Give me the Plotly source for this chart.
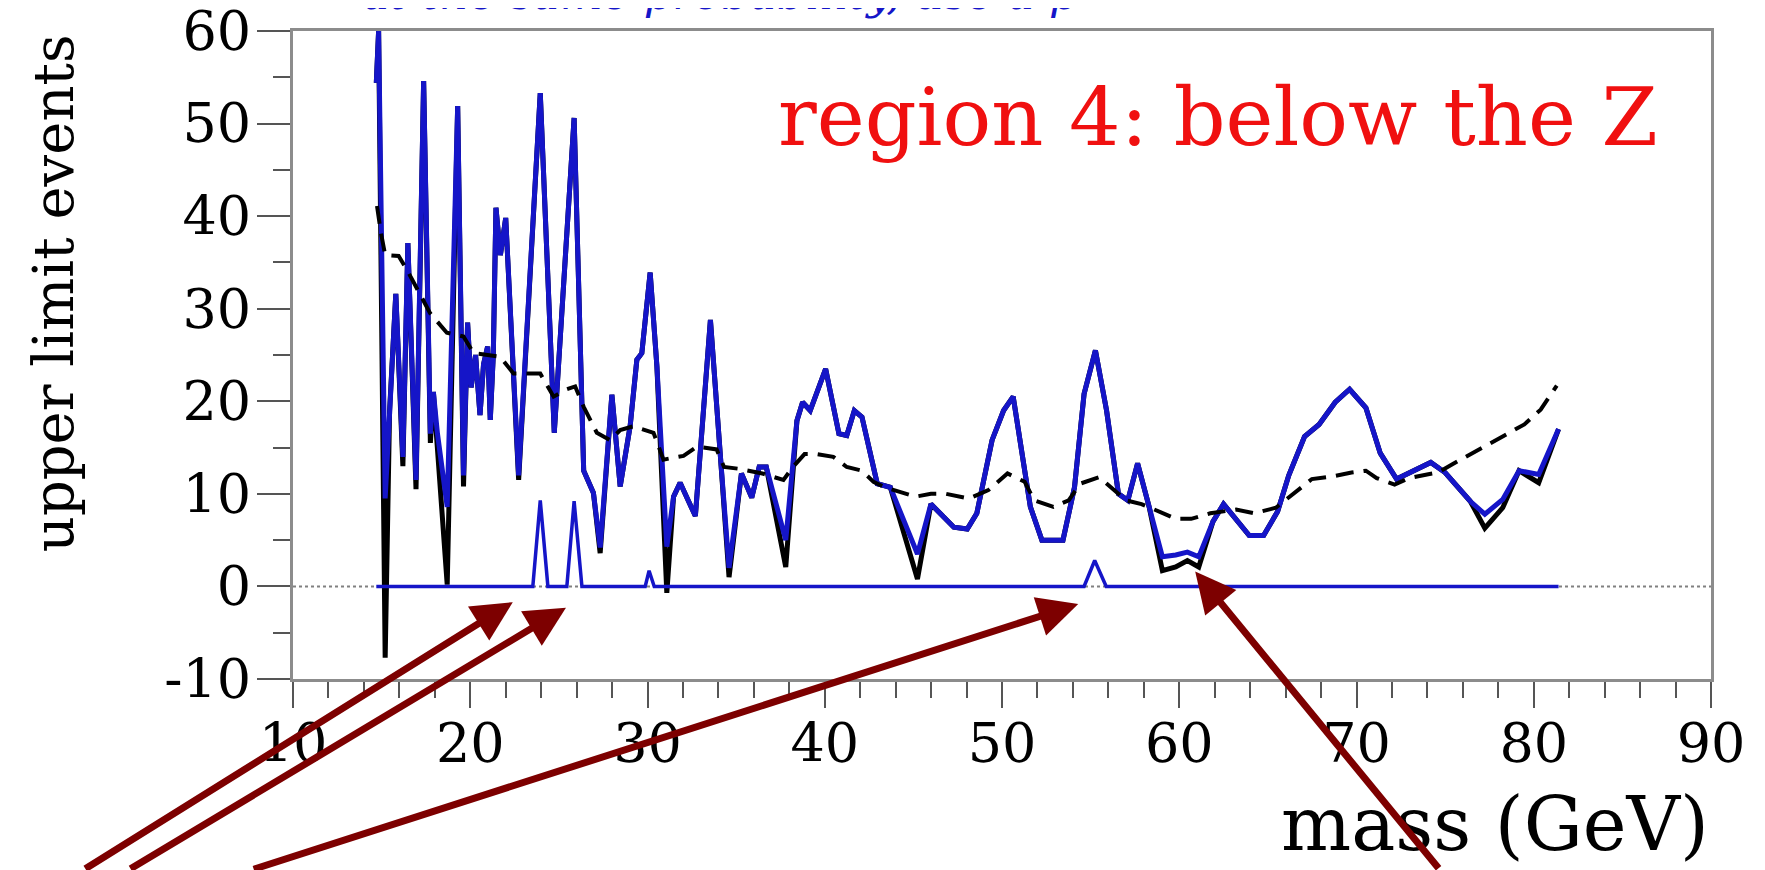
import plotly.graph_objects as go

# ---------------- data ----------------
mass = [14.70, 14.83, 15.20, 15.45, 15.80, 16.20, 16.48, 16.94, 17.37, 17.75,
        17.92, 18.15, 18.70, 19.29, 19.62, 19.85, 20.05, 20.30, 20.55, 20.75,
        20.98, 21.13, 21.30, 21.45, 21.70, 22.00, 22.73, 23.95, 24.74, 25.86,
        26.40, 26.95, 27.33, 27.99, 28.46, 29.02, 29.40, 29.68, 30.15, 30.53,
        31.09, 31.47, 31.84, 32.70, 33.55, 34.10, 34.60, 35.30, 35.88, 36.30,
        36.70, 37.80, 38.43, 38.75, 39.18, 40.05, 40.80, 41.24, 41.67, 42.10,
        42.96, 43.70, 45.23, 45.99, 46.53, 47.28, 48.04, 48.58, 49.44, 50.09,
        50.63, 51.60, 52.25, 53.44, 54.09, 54.63, 55.27, 55.90, 56.57, 57.10,
        57.65, 58.30, 59.05, 59.80, 60.46, 61.10, 61.90, 62.50, 63.95, 64.76,
        65.55, 66.18, 67.07, 67.89, 68.80, 69.61, 70.53, 71.34, 72.26, 74.19,
        75.00, 76.42, 77.24, 78.25, 79.17, 80.28, 81.40]

limit_blue = [54.4, 60.0, 9.5, 19.0, 31.6, 14.0, 37.1, 11.5, 54.6, 16.5,
              21.0, 16.5, 8.6, 51.9, 12.0, 28.5, 21.5, 25.0, 18.5, 24.0,
              25.9, 18.0, 25.0, 40.9, 35.8, 39.8, 12.0, 53.3, 16.6, 50.6,
              12.5, 10.1, 4.2, 20.7, 10.8, 17.3, 24.5, 25.2, 33.9, 23.8,
              4.3, 9.7, 11.2, 7.6, 28.8, 14.4, 2.0, 12.2, 9.6, 12.9,
              12.9, 5.0, 17.9, 19.9, 19.0, 23.5, 16.5, 16.3, 19.0, 18.3,
              11.1, 10.7, 3.5, 8.9, 7.9, 6.4, 6.2, 7.9, 15.8, 19.0,
              20.5, 8.6, 5.0, 5.0, 10.7, 20.8, 25.5, 19.0, 10.0, 9.3,
              13.3, 8.6, 3.2, 3.4, 3.7, 3.2, 7.0, 8.9, 5.5, 5.5,
              8.1, 12.0, 16.2, 17.5, 19.9, 21.3, 19.3, 14.4, 11.6, 13.4,
              12.3, 9.2, 7.8, 9.4, 12.5, 12.1, 17.0]

limit_black = [54.4, 60.0, -7.7, 19.0, 31.6, 13.0, 37.1, 10.5, 54.6, 15.5,
               21.0, 15.0, 0.2, 51.9, 10.8, 28.5, 21.5, 25.0, 18.5, 24.0,
               25.9, 18.0, 25.0, 40.9, 35.8, 39.8, 11.5, 53.3, 16.6, 50.6,
               12.5, 10.1, 3.6, 20.7, 10.8, 17.3, 24.5, 25.2, 33.9, 23.8,
               -0.7, 9.7, 11.2, 7.6, 28.8, 14.4, 1.0, 12.2, 9.6, 12.9,
               12.9, 2.1, 17.9, 19.9, 19.0, 23.5, 16.5, 16.3, 19.0, 18.3,
               11.1, 10.7, 0.8, 8.9, 7.9, 6.4, 6.2, 7.9, 15.8, 19.0,
               20.5, 8.6, 5.0, 5.0, 10.7, 20.8, 25.5, 19.0, 10.0, 9.3,
               13.3, 8.6, 1.7, 2.1, 2.8, 2.1, 7.0, 8.9, 5.5, 5.5,
               8.1, 12.0, 16.2, 17.5, 19.9, 21.3, 19.3, 14.4, 11.6, 13.4,
               12.3, 9.2, 6.3, 8.5, 12.5, 11.2, 17.0]

exp_mass = [14.74, 14.96, 15.20, 15.96, 16.43, 16.99, 17.74, 18.68, 19.62, 20.19,
            21.69, 22.44, 23.95, 24.70, 25.45, 25.92, 26.40, 27.14, 27.90, 28.46,
            29.20, 30.34, 30.90, 32.03, 32.78, 33.90, 34.32, 35.19, 36.48, 37.67,
            38.20, 38.86, 39.50, 40.48, 41.24, 42.10, 42.75, 43.40, 44.26, 45.12,
            45.99, 46.85, 48.15, 49.23, 50.31, 51.28, 51.82, 52.90, 53.76, 54.41,
            55.49, 56.14, 57.00, 57.87, 58.73, 59.81, 60.67, 61.75, 63.21, 64.23,
            65.45, 66.06, 66.87, 67.48, 68.70, 69.72, 70.53, 71.14, 72.15, 72.97,
            73.98, 74.59, 75.41, 76.42, 77.44, 78.46, 79.47, 80.39, 81.30]

exp_limit = [41.1, 38.2, 35.8, 35.7, 34.2, 32.1, 29.5, 27.4, 27.0, 25.2,
             24.8, 23.0, 23.0, 20.5, 21.3, 21.6, 19.4, 16.6, 15.8, 16.9,
             17.3, 16.6, 13.7, 14.1, 15.1, 14.8, 12.9, 12.7, 12.2, 11.5,
             12.9, 14.3, 14.3, 14.0, 12.9, 12.5, 11.3, 10.7, 10.2, 9.7,
             10.0, 10.0, 9.5, 10.4, 12.2, 11.3, 9.3, 8.6, 9.3, 11.1,
             11.8, 10.7, 9.3, 8.9, 8.2, 7.3, 7.3, 7.9, 8.3, 7.9,
             8.5, 9.4, 10.6, 11.6, 11.9, 12.3, 12.5, 11.7, 11.0, 11.7,
             12.1, 12.3, 13.2, 14.3, 15.3, 16.4, 17.5, 19.1, 21.7]

signal_mass = [14.70, 23.53, 23.95, 24.38, 25.45, 25.86, 26.30, 29.87, 30.09, 30.38,
               54.63, 55.23, 55.88, 81.40]
signal_events = [0, 0, 9.3, 0, 0, 9.2, 0, 0, 1.7, 0,
                 0, 2.8, 0, 0]

x_ticks = [10, 20, 30, 40, 50, 60, 70, 80, 90]
x_tick_labels = ["10", "20", "30", "40", "50", "60", "70", "80", "90"]
y_ticks = [-10, 0, 10, 20, 30, 40, 50, 60]
y_tick_labels = ["-10", "0", "10", "20", "30", "40", "50", "60"]

# arrows: (head mass, head events) <- (tail mass, tail events)
arrow_heads = [(22.4, -1.7), (25.4, -2.3), (54.3, -1.9), (60.9, 1.6)]
arrow_tails = [(-1.8, -30.6), (0.75, -30.6), (7.7, -30.6), (74.7, -30.6)]

# ---------------- styles ----------------
SERIF = "DejaVu Serif"
BLUE = "#1515c8"
DARKRED = "#7d0000"
AXIS_GREY = "#8c8c8c"
TICK_GREY = "#555555"

fig = go.Figure()

fig.add_shape(type="line", xref="paper", x0=0, x1=1, yref="y", y0=0, y1=0,
              line=dict(color="#808080", width=2, dash="dot"), layer="below")

fig.add_trace(go.Scatter(x=mass, y=limit_black, mode="lines",
                         line=dict(color="black", width=5), showlegend=False))
fig.add_trace(go.Scatter(x=mass, y=limit_blue, mode="lines",
                         line=dict(color=BLUE, width=5), showlegend=False))
fig.add_trace(go.Scatter(x=signal_mass, y=signal_events, mode="lines",
                         line=dict(color=BLUE, width=3.5), showlegend=False))
fig.add_trace(go.Scatter(x=exp_mass, y=exp_limit, mode="lines",
                         line=dict(color="black", width=4, dash="18px,10px"),
                         showlegend=False))

fig.update_xaxes(range=[10, 90.0001], tickvals=x_ticks, ticktext=x_tick_labels,
                 showgrid=False, zeroline=False,
                 showline=True, linecolor=AXIS_GREY, linewidth=3, mirror=True,
                 ticks="outside", ticklen=26, tickwidth=2, tickcolor=TICK_GREY,
                 ticklabelstandoff=-11, ticklabeloverflow="allow",
                 tickfont=dict(family=SERIF, size=54, color="black"),
                 minor=dict(tick0=10, dtick=2, ticks="outside", ticklen=16,
                            tickwidth=2, tickcolor=TICK_GREY))
fig.update_yaxes(range=[-10, 60.0001], tickvals=y_ticks, ticktext=y_tick_labels,
                 showgrid=False, zeroline=False,
                 showline=True, linecolor=AXIS_GREY, linewidth=3, mirror=True,
                 ticks="outside", ticklen=33, tickwidth=2, tickcolor=TICK_GREY,
                 ticklabelstandoff=-5, ticklabeloverflow="allow",
                 tickfont=dict(family=SERIF, size=54, color="black"),
                 minor=dict(tick0=-10, dtick=5, ticks="outside", ticklen=17,
                            tickwidth=2, tickcolor=TICK_GREY))

annotations = [
    dict(text="upper limit events", xref="paper", yref="paper", x=-0.169, y=0.596,
         textangle=-90, showarrow=False, xanchor="center", yanchor="middle",
         font=dict(family=SERIF, size=56, color="black")),
    dict(text="mass (GeV)", xref="paper", yref="paper", x=1.0, y=-0.223,
         showarrow=False, xanchor="right", yanchor="middle",
         font=dict(family=SERIF, size=74, color="black")),
    dict(text="region 4: below the Z", xref="paper", yref="paper", x=0.652, y=0.868,
         showarrow=False, xanchor="center", yanchor="middle",
         font=dict(family=SERIF, size=81, color="#f01010")),
    dict(text="at the same probability, use a p", xref="paper", yref="paper",
         x=0.048, y=1.014, showarrow=False, xanchor="left", yanchor="bottom",
         font=dict(family=SERIF, size=45, color=BLUE, style="italic")),
]
for (hx, hy), (tx, ty) in zip(arrow_heads, arrow_tails):
    annotations.append(dict(x=hx, y=hy, xref="x", yref="y", ax=tx, ay=ty,
                            axref="x", ayref="y", text="", showarrow=True,
                            arrowhead=2, arrowsize=1.15, arrowwidth=7,
                            arrowcolor=DARKRED))

# the html page adds an 8px body margin, compensated in the margins below
fig.update_layout(width=1765, height=870,
                  margin=dict(l=285, r=62, t=23, b=199, autoexpand=False),
                  paper_bgcolor="white", plot_bgcolor="white",
                  annotations=annotations, showlegend=False)

fig.write_html("out.html")
